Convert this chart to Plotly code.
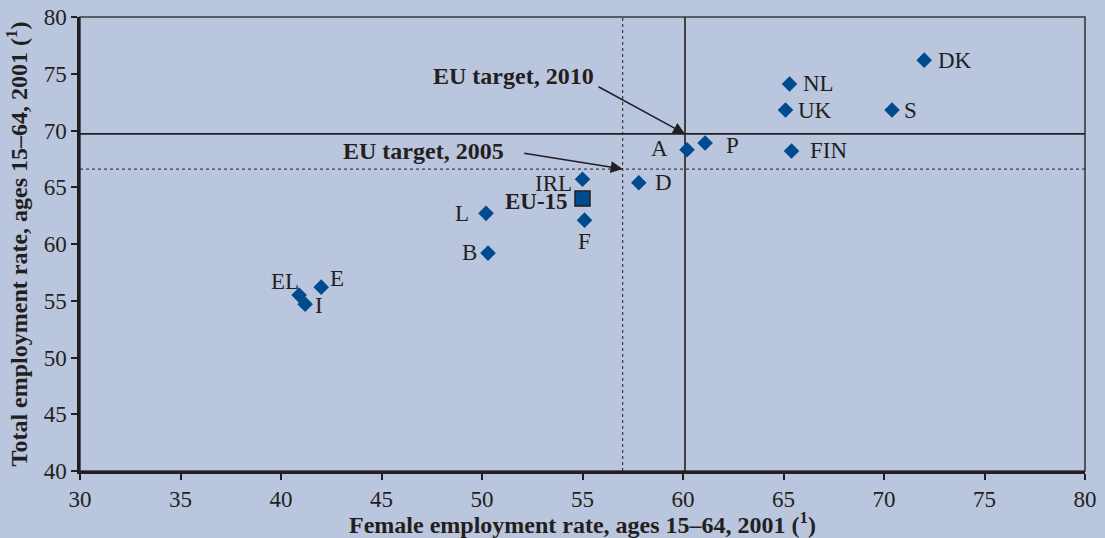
import plotly.graph_objects as go

# ---- data ----
countries = ["DK", "NL", "UK", "S", "FIN", "A", "P", "D", "IRL", "F", "L", "B", "EL", "E", "I"]
female_rate = [72.0, 65.3, 65.1, 70.4, 65.4, 60.2, 61.1, 57.8, 55.0, 55.1, 50.2, 50.3, 40.9, 42.0, 41.2]
total_rate = [76.2, 74.1, 71.8, 71.8, 68.2, 68.3, 68.9, 65.4, 65.7, 62.1, 62.7, 59.2, 55.5, 56.2, 54.7]

eu15_label = ["EU-15"]
eu15_female = [55.0]
eu15_total = [64.0]

target_2010_female = 60.1
target_2010_total = 69.7
target_2005_female = 57.0
target_2005_total = 66.6

x_ticks = [30, 35, 40, 45, 50, 55, 60, 65, 70, 75, 80]
y_ticks = [40, 45, 50, 55, 60, 65, 70, 75, 80]

# ---- styling ----
BG = "#BAC5DE"
BLUE = "#004B8D"
INK = "#231F20"
FONT = "Liberation Serif"
LABEL_SIZE = 23
TITLE_SIZE = 24

# label offsets (pixels) relative to the marker
label_offsets = {
    "DK": (31, 0), "NL": (29, 0), "UK": (29, 0), "S": (18, 0), "FIN": (37, 0),
    "A": (-28, 1), "P": (27, -3), "D": (25, 0), "IRL": (-29, -4), "F": (0, -21),
    "L": (-24, 0), "B": (-19, 1), "EL": (-14, 14), "E": (16, 9), "I": (14, -1),
}

fig = go.Figure()

# target lines
fig.add_shape(type="line", x0=x_ticks[0], x1=x_ticks[-1], y0=target_2010_total, y1=target_2010_total,
              line=dict(color=INK, width=1.6), layer="below")
fig.add_shape(type="line", x0=target_2010_female, x1=target_2010_female, y0=y_ticks[0], y1=y_ticks[-1],
              line=dict(color=INK, width=1.6), layer="below")
fig.add_shape(type="line", x0=x_ticks[0], x1=x_ticks[-1], y0=target_2005_total, y1=target_2005_total,
              line=dict(color=INK, width=1, dash="dot"), layer="below")
fig.add_shape(type="line", x0=target_2005_female, x1=target_2005_female, y0=y_ticks[0], y1=y_ticks[-1],
              line=dict(color=INK, width=1, dash="dot"), layer="below")
# frame (top/right)
fig.add_shape(type="rect", xref="paper", yref="paper", x0=0, x1=1, y0=0, y1=1,
              line=dict(color="#3a3a3e", width=1.6), layer="below")

fig.add_trace(go.Scatter(
    x=female_rate, y=total_rate, mode="markers",
    marker=dict(symbol="diamond", size=12, color=BLUE, line=dict(width=0)),
    hovertext=countries, showlegend=False,
))
fig.add_trace(go.Scatter(
    x=eu15_female, y=eu15_total, mode="markers",
    marker=dict(symbol="square", size=15, color=BLUE, line=dict(width=1.5, color=INK)),
    hovertext=eu15_label, showlegend=False,
))

for name, xv, yv in zip(countries, female_rate, total_rate):
    dx, dy = label_offsets[name]
    fig.add_annotation(x=xv, y=yv, text=name, showarrow=False, xshift=dx, yshift=dy,
                       font=dict(family=FONT, size=LABEL_SIZE, color=INK))
fig.add_annotation(x=eu15_female[0], y=eu15_total[0], text="<b>EU-15</b>", showarrow=False,
                   xshift=-46, yshift=-3, font=dict(family=FONT, size=LABEL_SIZE, color=INK))

# arrows
fig.add_annotation(x=target_2010_female, y=target_2010_total, ax=-88, ay=-48, text="",
                   showarrow=True, arrowhead=2, arrowsize=1.6, arrowwidth=1.5, arrowcolor=INK)
fig.add_annotation(x=target_2010_female, y=target_2010_total, text="<b>EU target, 2010</b>",
                   showarrow=False, xshift=-172, yshift=58, font=dict(family=FONT, size=24, color=INK))
fig.add_annotation(x=target_2005_female, y=target_2005_total, ax=-100, ay=-16, text="",
                   showarrow=True, arrowhead=2, arrowsize=1.6, arrowwidth=1.5, arrowcolor=INK)
fig.add_annotation(x=target_2005_female, y=target_2005_total, text="<b>EU target, 2005</b>",
                   showarrow=False, xshift=-199, yshift=18, font=dict(family=FONT, size=24, color=INK))

axis_common = dict(showgrid=False, zeroline=False, showline=True, linecolor=INK, linewidth=2.5,
                   ticks="outside", ticklen=6, tickwidth=1.5, tickcolor=INK, automargin=False,
                   tickfont=dict(family=FONT, size=LABEL_SIZE, color=INK))
fig.update_xaxes(range=[x_ticks[0], x_ticks[-1]], tickvals=x_ticks, **axis_common,
                 title=dict(text="<b>Female employment rate, ages 15–64, 2001 (<sup>1</sup>)</b>",
                            font=dict(family=FONT, size=TITLE_SIZE, color=INK), standoff=3))
fig.update_yaxes(range=[y_ticks[0], y_ticks[-1]], tickvals=y_ticks, **axis_common,
                 title=dict(text="<b>Total employment rate, ages 15–64, 2001 (<sup>1</sup>)</b>",
                            font=dict(family=FONT, size=TITLE_SIZE, color=INK), standoff=10))

fig.update_layout(
    width=1105, height=538,
    margin=dict(l=80, r=20, t=17, b=67),
    paper_bgcolor=BG, plot_bgcolor=BG,
    font=dict(family=FONT, color=INK),
)

fig.write_html("out.html", config={"displayModeBar": False},
               post_script="document.body.style.margin='0';document.body.style.overflow='hidden';")
